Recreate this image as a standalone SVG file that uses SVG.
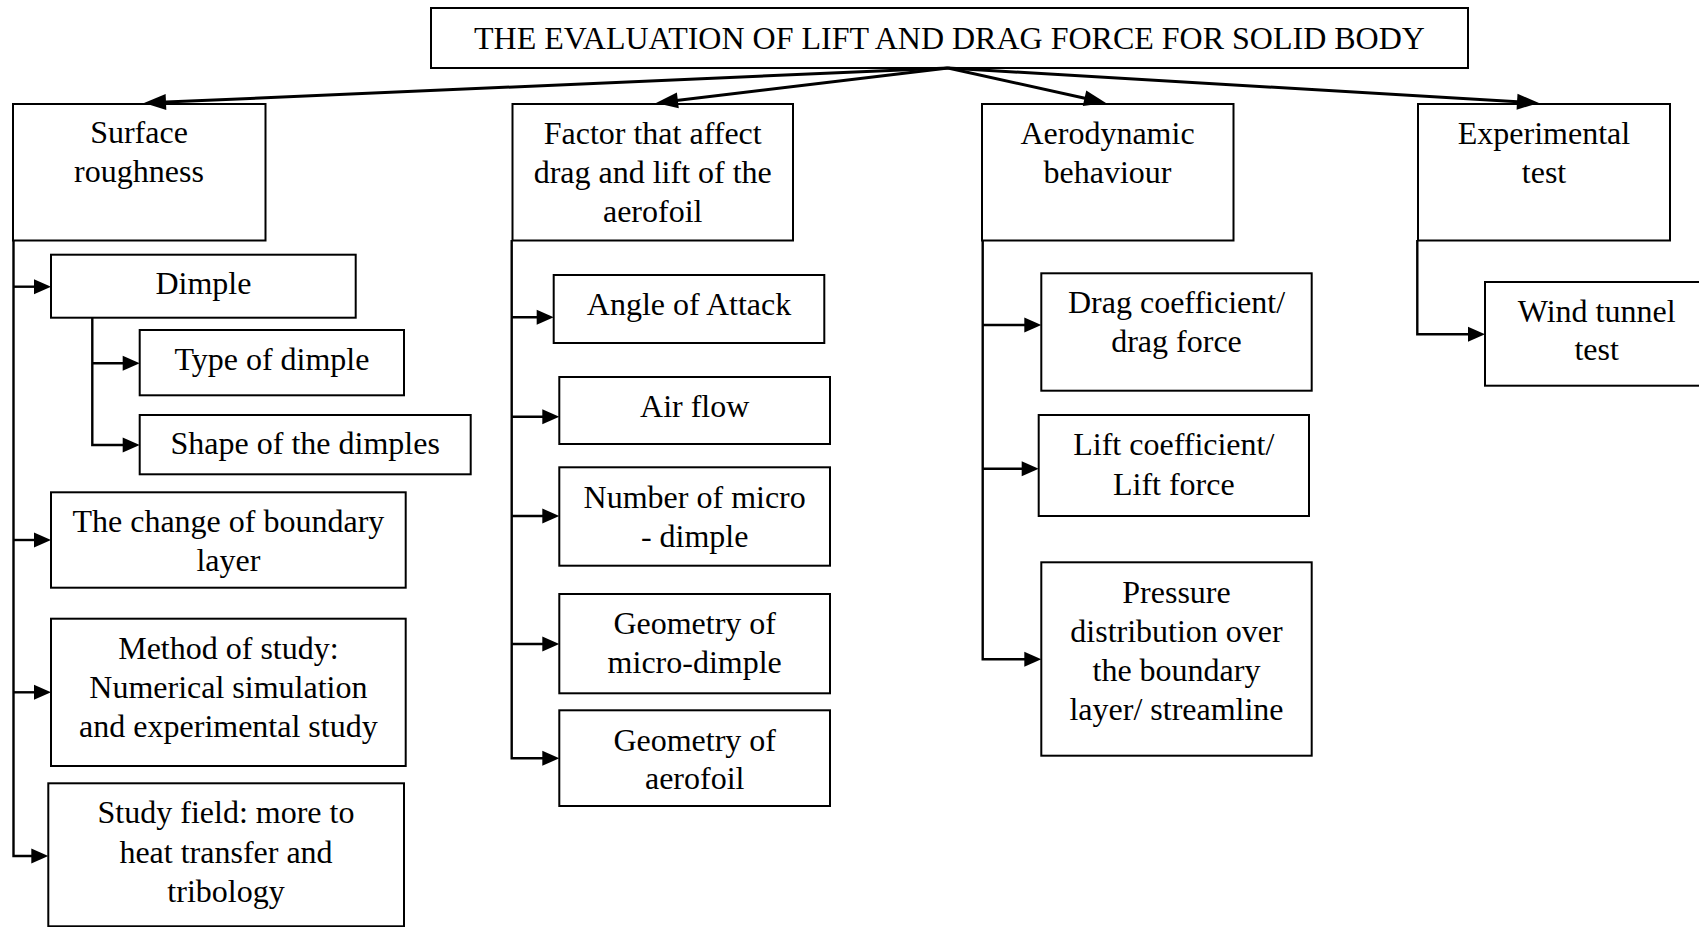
<svg xmlns="http://www.w3.org/2000/svg" xmlns:xlink="http://www.w3.org/1999/xlink" width="1699" height="927" viewBox="0 0 1699 927">
<style>
.box{fill:#fff;stroke:#000;stroke-width:2}
.t{font-family:"Liberation Serif","Times New Roman",serif;font-size:32px;fill:#000;text-anchor:middle}
.c{fill:none;stroke:#000;stroke-width:2.4}
.ct{fill:none;stroke:#000;stroke-width:3}
.ah{fill:#000;stroke:none}
</style>
<defs>
<path id="tri" d="M0,0 L-17,-7.5 L-17,7.5 z"/>
<path id="trit" d="M0,0 L-22,-8 L-22,8 z"/>
</defs>
<rect width="1699" height="927" fill="#fff"/>
<g id="title">
<rect class="box" x="431" y="8" width="1037" height="60"/>
<text class="t" x="949.5" y="48.5">THE EVALUATION OF LIFT AND DRAG FORCE FOR SOLID BODY</text>
</g>
<g id="surface-roughness">
<rect class="box" x="13" y="104" width="252.5" height="136.5"/>
<text class="t" x="139" y="143">Surface<tspan x="139" dy="39">roughness</tspan></text>
</g>
<g id="factor">
<rect class="box" x="512.5" y="104" width="280.5" height="136.5"/>
<text class="t" x="652.7" y="144">Factor that affect<tspan x="652.7" dy="39">drag and lift of the</tspan><tspan x="652.7" dy="39">aerofoil</tspan></text>
</g>
<g id="aerodynamic">
<rect class="box" x="982" y="104" width="251.5" height="136.5"/>
<text class="t" x="1107.5" y="144">Aerodynamic<tspan x="1107.5" dy="39">behaviour</tspan></text>
</g>
<g id="experimental">
<rect class="box" x="1418" y="104" width="252" height="136.5"/>
<text class="t" x="1544" y="144">Experimental<tspan x="1544" dy="39">test</tspan></text>
</g>
<g id="dimple">
<rect class="box" x="51" y="254.7" width="304.7" height="63"/>
<text class="t" x="203.4" y="294">Dimple</text>
</g>
<g id="type-of-dimple">
<rect class="box" x="139.7" y="330" width="264.3" height="65.3"/>
<text class="t" x="271.9" y="370">Type of dimple</text>
</g>
<g id="shape-of-dimples">
<rect class="box" x="139.7" y="415" width="331" height="59.3"/>
<text class="t" x="305.2" y="454">Shape of the dimples</text>
</g>
<g id="boundary-layer">
<rect class="box" x="51" y="492.3" width="354.7" height="95.4"/>
<text class="t" x="228.4" y="531.5">The change of boundary<tspan x="228.4" dy="39">layer</tspan></text>
</g>
<g id="method-of-study">
<rect class="box" x="51" y="618.7" width="354.7" height="147.3"/>
<text class="t" x="228.4" y="659">Method of study:<tspan x="228.4" dy="39">Numerical simulation</tspan><tspan x="228.4" dy="39">and experimental study</tspan></text>
</g>
<g id="study-field">
<rect class="box" x="48.3" y="783.3" width="355.7" height="143"/>
<text class="t" x="226" y="823">Study field: more to<tspan x="226" dy="39.5">heat transfer and</tspan><tspan x="226" dy="39.5">tribology</tspan></text>
</g>
<g id="angle-of-attack">
<rect class="box" x="553.7" y="275" width="270.6" height="68"/>
<text class="t" x="689" y="315">Angle of Attack</text>
</g>
<g id="air-flow">
<rect class="box" x="559.3" y="377" width="270.7" height="67"/>
<text class="t" x="694.7" y="417">Air flow</text>
</g>
<g id="number-micro-dimple">
<rect class="box" x="559.3" y="467.3" width="270.7" height="98.4"/>
<text class="t" x="694.7" y="507.5">Number of micro<tspan x="694.7" dy="39">- dimple</tspan></text>
</g>
<g id="geometry-micro-dimple">
<rect class="box" x="559.3" y="594" width="270.7" height="99.3"/>
<text class="t" x="694.7" y="634">Geometry of<tspan x="694.7" dy="39.3">micro-dimple</tspan></text>
</g>
<g id="geometry-aerofoil">
<rect class="box" x="559.3" y="710.3" width="270.7" height="95.7"/>
<text class="t" x="694.7" y="750.5">Geometry of<tspan x="694.7" dy="38.8">aerofoil</tspan></text>
</g>
<g id="drag-coefficient">
<rect class="box" x="1041.3" y="273.3" width="270.4" height="117.4"/>
<text class="t" x="1176.5" y="313">Drag coefficient/<tspan x="1176.5" dy="39.3">drag force</tspan></text>
</g>
<g id="lift-coefficient">
<rect class="box" x="1038.7" y="415" width="270.3" height="101"/>
<text class="t" x="1173.8" y="455">Lift coefficient/<tspan x="1173.8" dy="40">Lift force</tspan></text>
</g>
<g id="pressure-distribution">
<rect class="box" x="1041.3" y="562.3" width="270.4" height="193.4"/>
<text class="t" x="1176.5" y="602.5">Pressure<tspan x="1176.5" dy="39.2">distribution over</tspan><tspan x="1176.5" dy="39.2">the boundary</tspan><tspan x="1176.5" dy="39.2">layer/ streamline</tspan></text>
</g>
<g id="wind-tunnel">
<rect class="box" x="1485" y="282" width="225" height="103.7"/>
<text class="t" x="1596.7" y="321.7">Wind tunnel<tspan x="1596.7" dy="38.5">test</tspan></text>
</g>
<g id="connectors">
<path class="ct" d="M948,68 L154,102.6"/>
<path class="ct" d="M948,68 L666,101.8"/>
<path class="ct" d="M948,68 L1096.2,100.8"/>
<path class="ct" d="M948,68 L1529,102.4"/>
<use xlink:href="#trit" href="#trit" class="ah" transform="translate(144,103) rotate(177.51)"/>
<use xlink:href="#trit" href="#trit" class="ah" transform="translate(656,103) rotate(173.17)"/>
<use xlink:href="#trit" href="#trit" class="ah" transform="translate(1106,103) rotate(12.49)"/>
<use xlink:href="#trit" href="#trit" class="ah" transform="translate(1539,103) rotate(3.39)"/>
<path class="c" d="M13.5,240 V856 H40"/>
<path class="c" d="M13.5,286.7 H40"/>
<path class="c" d="M13.5,540 H40"/>
<path class="c" d="M13.5,692.3 H40"/>
<path class="c" d="M92.3,317.7 V445 H130"/>
<path class="c" d="M92.3,363.3 H130"/>
<path class="c" d="M511.7,240 V758.3 H550"/>
<path class="c" d="M511.7,317.3 H545"/>
<path class="c" d="M511.7,416.7 H550"/>
<path class="c" d="M511.7,516 H550"/>
<path class="c" d="M511.7,644 H550"/>
<path class="c" d="M982.7,240 V659.3 H1032"/>
<path class="c" d="M982.7,325 H1032"/>
<path class="c" d="M982.7,468.7 H1030"/>
<path class="c" d="M1417.3,240 V334.3 H1476"/>
<use xlink:href="#tri" href="#tri" class="ah" transform="translate(48.3,856)"/>
<use xlink:href="#tri" href="#tri" class="ah" transform="translate(51,286.7)"/>
<use xlink:href="#tri" href="#tri" class="ah" transform="translate(51,540)"/>
<use xlink:href="#tri" href="#tri" class="ah" transform="translate(51,692.3)"/>
<use xlink:href="#tri" href="#tri" class="ah" transform="translate(139.7,445)"/>
<use xlink:href="#tri" href="#tri" class="ah" transform="translate(139.7,363.3)"/>
<use xlink:href="#tri" href="#tri" class="ah" transform="translate(559.3,758.3)"/>
<use xlink:href="#tri" href="#tri" class="ah" transform="translate(553.7,317.3)"/>
<use xlink:href="#tri" href="#tri" class="ah" transform="translate(559.3,416.7)"/>
<use xlink:href="#tri" href="#tri" class="ah" transform="translate(559.3,516)"/>
<use xlink:href="#tri" href="#tri" class="ah" transform="translate(559.3,644)"/>
<use xlink:href="#tri" href="#tri" class="ah" transform="translate(1041.3,659.3)"/>
<use xlink:href="#tri" href="#tri" class="ah" transform="translate(1041.3,325)"/>
<use xlink:href="#tri" href="#tri" class="ah" transform="translate(1038.7,468.7)"/>
<use xlink:href="#tri" href="#tri" class="ah" transform="translate(1485,334.3)"/>
</g>
</svg>
